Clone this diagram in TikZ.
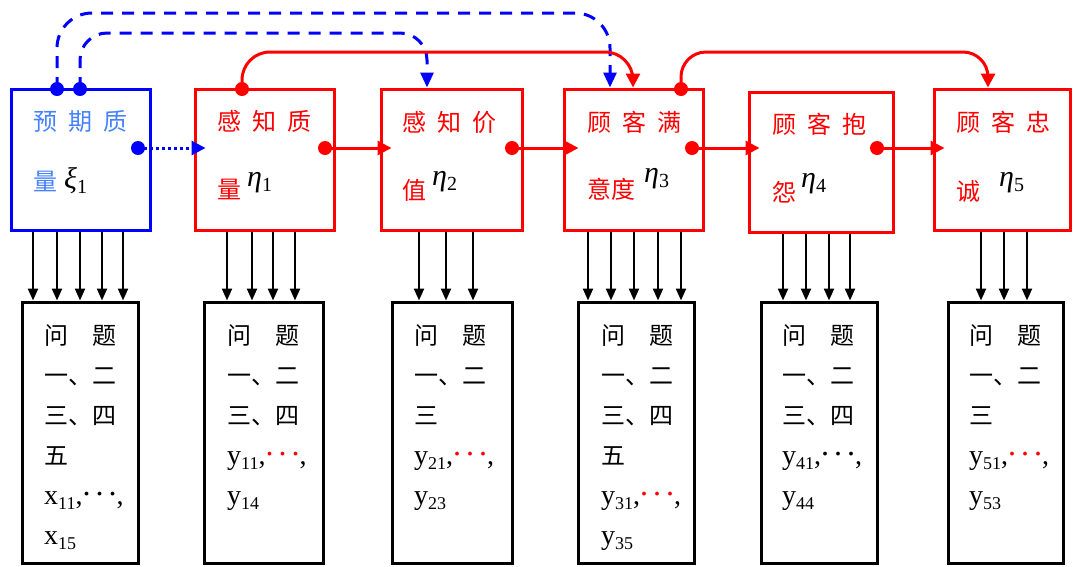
\documentclass[tikz,border=0pt]{standalone}
\usepackage{fontspec}
\setmainfont{Liberation Serif}
\newfontfamily\cjk{Noto Sans CJK SC}
\usetikzlibrary{arrows.meta}
\definecolor{bl}{RGB}{0,0,255}
\definecolor{tbl}{RGB}{70,130,255}
\definecolor{rd}{RGB}{255,0,0}
\newcommand\gk[3]{\raisebox{#1}{{\color{black}\rmfamily\fontsize{30}{30}\selectfont\itshape #2}{\color{black}\rmfamily\fontsize{20}{20}\selectfont\raisebox{-5pt}{#3}}}}
\newcommand\lat[2]{{\rmfamily\fontsize{28}{40}\selectfont #1{\fontsize{18}{18}\selectfont\raisebox{-5pt}{#2}}}}
\newcommand\dts[1]{{\rmfamily\fontsize{28}{40}\selectfont,\textcolor{#1}{\fontsize{32}{40}\selectfont\raisebox{9pt}{.\hspace{5pt}.\hspace{5pt}.}},}}
\begin{document}
\begin{tikzpicture}[x=1pt,y=-1pt,
  tb/.style={draw,line width=3pt,minimum height=141pt,inner sep=0pt},
  bb/.style={draw=black,line width=3pt,minimum height=261pt,inner sep=0pt},
  dotn/.style={circle,inner sep=0pt,minimum size=14pt},
  ttxt/.style={anchor=base west,inner sep=0pt,font=\cjk\fontsize{24}{24}\selectfont},
  btxt/.style={anchor=base west,inner sep=0pt,align=left,font=\cjk\fontsize{24}{40}\selectfont},
  vline/.style={line width=2.2pt,black,-{Triangle[length=12pt,width=10pt]}},
  hline/.style={line width=3pt,rd,-{Triangle[length=14pt,width=14pt]}},
  dsh/.style={line width=3pt,bl,dash pattern=on 12pt off 9pt,-{Triangle[length=15pt,width=13pt]}},
  dtt/.style={line width=3pt,bl,dash pattern=on 3pt off 3pt,-{Triangle[length=14pt,width=14pt]}},
]
\useasboundingbox (0,0) rectangle (1073,566);

% top boxes
\node[tb,draw=bl,minimum width=139pt] (T1) at (80.5,159.5) {};
\node[tb,draw=rd,minimum width=139pt] (T2) at (264.5,159.5) {};
\node[tb,draw=rd,minimum width=141pt] (T3) at (451.5,159.5) {};
\node[tb,draw=rd,minimum width=139pt] (T4) at (633.5,159.5) {};
\node[tb,draw=rd,minimum width=144pt,minimum height=140pt] (T5) at (821,162) {};
\node[tb,draw=rd,minimum width=136pt] (T6) at (1002,159.5) {};

% bottom boxes
\node[bb,minimum width=116pt] (B1) at (80,432.5) {};
\node[bb,minimum width=119pt] (B2) at (263.5,432.5) {};
\node[bb,minimum width=120pt] (B3) at (452,432.5) {};
\node[bb,minimum width=116pt] (B4) at (636,432.5) {};
\node[bb,minimum width=116pt] (B5) at (819,432.5) {};
\node[bb,minimum width=115pt] (B6) at (1005.5,432.5) {};

% top texts
\node[ttxt,text=tbl] (a1) at (33,130) {预\hspace{11pt}期\hspace{11pt}质};
\node[ttxt,text=tbl] (b1) at (33,190) {量\hspace{7pt}\gk{2pt}{ξ}{1}};
\node[ttxt,text=rd] (a2) at (217,130) {感\hspace{11pt}知\hspace{11pt}质};
\node[ttxt,text=rd] (b2) at (217,198) {量\hspace{6pt}\gk{12pt}{η}{1}};
\node[ttxt,text=rd] (a3) at (402,131) {感\hspace{11pt}知\hspace{11pt}价};
\node[ttxt,text=rd] (b3) at (402,199) {值\hspace{6pt}\gk{14pt}{η}{2}};
\node[ttxt,text=rd] (a4) at (587,131) {顾\hspace{11pt}客\hspace{11pt}满};
\node[ttxt,text=rd] (b4) at (587,198) {意度\hspace{9pt}\gk{16pt}{η}{3}};
\node[ttxt,text=rd] (a5) at (772,133) {顾\hspace{11pt}客\hspace{11pt}抱};
\node[ttxt,text=rd] (b5) at (772,201) {怨\hspace{5pt}\gk{14pt}{η}{4}};
\node[ttxt,text=rd] (a6) at (956,131) {顾\hspace{11pt}客\hspace{11pt}忠};
\node[ttxt,text=rd] (b6) at (956,200) {诚\hspace{19pt}\gk{14pt}{η}{5}};

% bottom texts (anchor at the baseline of the last line)
\node[btxt] (c1) at (44,544) {问\hspace{24pt}题\\一、二\\三、四\\五\\\lat{x}{11}\dts{black}\\\lat{x}{15}};
\node[btxt] (c2) at (227,504) {问\hspace{24pt}题\\一、二\\三、四\\\lat{y}{11}\dts{rd}\\\lat{y}{14}};
\node[btxt] (c3) at (414,504) {问\hspace{24pt}题\\一、二\\三\\\lat{y}{21}\dts{rd}\\\lat{y}{23}};
\node[btxt] (c4) at (601,544) {问\hspace{24pt}题\\一、二\\三、四\\五\\\lat{y}{31}\dts{rd}\\\lat{y}{35}};
\node[btxt] (c5) at (782,504) {问\hspace{24pt}题\\一、二\\三、四\\\lat{y}{41}\dts{black}\\\lat{y}{44}};
\node[btxt] (c6) at (969,504) {问\hspace{24pt}题\\一、二\\三\\\lat{y}{51}\dts{rd}\\\lat{y}{53}};

% vertical arrows
\foreach \x in {33,57,80,102,123} \draw[vline] (T1.south -| \x,0) -- (B1.north -| \x,0);
\foreach \x in {227,252,273,295} \draw[vline] (T2.south -| \x,0) -- (B2.north -| \x,0);
\foreach \x in {419,446,473} \draw[vline] (T3.south -| \x,0) -- (B3.north -| \x,0);
\foreach \x in {588,611,634,658,681} \draw[vline] (T4.south -| \x,0) -- (B4.north -| \x,0);
\foreach \x in {783,806,829,850} \draw[vline] (T5.south -| \x,0) -- (B5.north -| \x,0);
\foreach \x in {981,1004,1027} \draw[vline] (T6.south -| \x,0) -- (B6.north -| \x,0);

% dots
\node[dotn] (bd1) at (57,89) {};
\node[dotn] (bd2) at (80,89) {};
\node[dotn] (bd3) at (138,148) {};
\node[dotn] (rd1) at (242,89) {};
\node[dotn] (rd2) at (681,89) {};
\node[dotn] (rs2) at (325,148) {};
\node[dotn] (rs3) at (512,148) {};
\node[dotn] (rs4) at (692,148) {};
\node[dotn] (rs5) at (877,148) {};

% top connectors
\draw[dsh,rounded corners=35pt] (bd1.center) -- ++(0,-76) -| ([xshift=-23.5pt]T4.north);
\draw[dsh,rounded corners=27pt] (bd2.center) -- ++(0,-56) -| ([xshift=-24.5pt]T3.north);
\draw[hline,rounded corners=28pt] (rd1.center) -- ++(0,-37) -| ([xshift=-0.5pt]T4.north);
\draw[hline,rounded corners=25pt] (rd2.center) -- ++(0,-37) -| ([xshift=-14pt]T6.north);

% horizontal connectors
\draw[dtt] (bd3.center) -- ([shift={(12,-11.5)}]T2.west);
\draw[hline] (rs2.center) -- ([shift={(12,-11.5)}]T3.west);
\draw[hline] (rs3.center) -- ([shift={(16,-11.5)}]T4.west);
\draw[hline] (rs4.center) -- ([shift={(12,-14)}]T5.west);
\draw[hline] (rs5.center) -- ([shift={(12,-11.5)}]T6.west);

% dot fills on top
\foreach \n in {bd1,bd2,bd3} \fill[bl] (\n) circle (7pt);
\foreach \n in {rd1,rd2,rs2,rs3,rs4,rs5} \fill[rd] (\n) circle (7pt);
\end{tikzpicture}
\end{document}
